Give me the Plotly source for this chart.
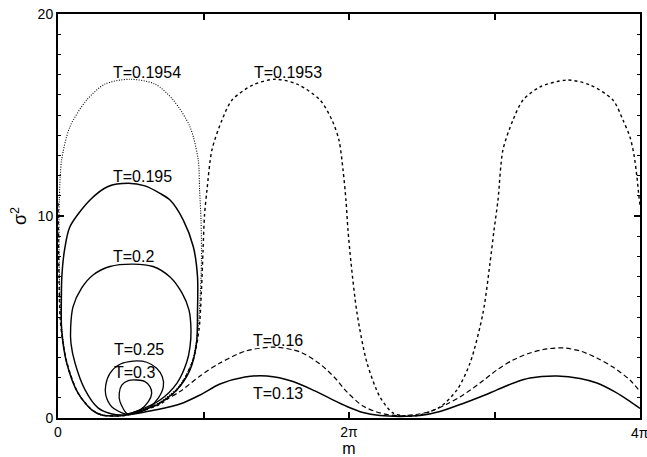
import plotly.graph_objects as go

# x values are m/pi, y values are sigma^2
x_tickvals = [0, 2]
x_ticktext = ["0", "2π"]
x_edge_tick = 4
x_edge_text = "4π"
y_tickvals = [0, 10, 20]
y_ticktext = ["0", "10", "20"]

m_T0_1954 = [0.460, 0.550, 0.701, 0.838, 0.921, 0.962, 0.976, 0.986, 0.983, 0.973, 0.964, 0.907,
             0.792, 0.667, 0.495, 0.323, 0.197, 0.082, 0.025, 0.009, 0.007, 0.010, 0.017, 0.027,
             0.060, 0.137, 0.232, 0.300, 0.460]
s2_T0_1954 = [0.13, 0.35, 0.79, 1.63, 2.77, 4.36, 5.84, 7.82, 9.80, 11.29, 12.77, 14.42,
              15.74, 16.53, 16.77, 16.53, 15.74, 14.42, 12.77, 10.79, 8.81, 6.83, 5.35, 4.36,
              2.72, 1.24, 0.40, 0.15, 0.13]

m_T0_1953 = [0.000, 0.003, 0.007, 0.014, 0.031, 0.062, 0.137, 0.234, 0.302, 0.460, 0.564, 0.715,
             0.838, 0.928, 0.969, 0.986, 0.997, 1.007, 1.024, 1.058, 1.127, 1.196, 1.340, 1.491,
             1.643, 1.801, 1.883, 1.931, 1.959, 1.979, 1.993, 2.014, 2.055, 2.124, 2.213, 2.302,
             2.385, 2.467, 2.625, 2.742, 2.832, 2.921, 2.969, 2.997, 3.024, 3.058, 3.127, 3.196,
             3.313, 3.498, 3.656, 3.814, 3.883, 3.931, 3.959, 3.979, 3.993, 4.000]
s2_T0_1953 = [10.64, 8.81, 6.83, 5.00, 3.86, 2.72, 1.24, 0.40, 0.15, 0.12, 0.32, 0.74,
              1.58, 2.87, 4.36, 6.34, 8.32, 10.05, 11.29, 13.27, 14.75, 15.74, 16.49, 16.77,
              16.53, 15.74, 14.75, 13.76, 12.28, 10.79, 9.31, 7.67, 5.20, 2.72, 1.04, 0.25,
              0.10, 0.12, 0.54, 1.39, 2.72, 5.20, 7.67, 9.31, 10.79, 13.27, 14.75, 15.74,
              16.39, 16.73, 16.49, 15.74, 14.75, 13.91, 13.02, 11.93, 10.94, 10.54]

m_T0_195 = [0.460, 0.541, 0.678, 0.816, 0.907, 0.952, 0.959, 0.959, 0.930, 0.861, 0.770, 0.701,
            0.598, 0.483, 0.344, 0.220, 0.082, 0.045, 0.027, 0.023, 0.025, 0.060, 0.137, 0.232,
            0.300, 0.460]
s2_T0_195 = [0.13, 0.31, 0.64, 1.39, 2.38, 3.71, 5.35, 6.98, 8.48, 9.80, 10.79, 11.12,
             11.49, 11.62, 11.46, 10.79, 9.47, 8.32, 7.08, 5.84, 4.36, 2.72, 1.24, 0.40,
             0.15, 0.13]

m_T0_2 = [0.467, 0.371, 0.275, 0.186, 0.117, 0.089, 0.087, 0.103, 0.163, 0.241, 0.357, 0.515,
          0.653, 0.770, 0.852, 0.900, 0.914, 0.907, 0.885, 0.818, 0.701, 0.564, 0.467]
s2_T0_2 = [0.17, 0.20, 0.50, 1.39, 2.72, 3.71, 4.50, 5.50, 6.44, 7.08, 7.50, 7.62,
           7.50, 6.98, 6.19, 5.35, 4.36, 3.51, 2.77, 1.73, 0.89, 0.40, 0.17]

m_T0_25 = [0.460, 0.369, 0.328, 0.328, 0.357, 0.426, 0.518, 0.610, 0.678, 0.717, 0.724, 0.689,
           0.621, 0.529, 0.460]
s2_T0_25 = [0.20, 0.56, 1.14, 1.63, 2.21, 2.66, 2.82, 2.76, 2.46, 2.04, 1.55, 0.98,
            0.48, 0.23, 0.20]

m_T0_3 = [0.472, 0.426, 0.421, 0.438, 0.483, 0.541, 0.598, 0.632, 0.644, 0.621, 0.564, 0.495, 0.472]
s2_T0_3 = [0.23, 0.81, 1.23, 1.63, 1.85, 1.88, 1.80, 1.55, 1.22, 0.81, 0.40, 0.23, 0.23]

m_T0_16 = [0.481, 0.598, 0.735, 0.838, 0.976, 1.113, 1.292, 1.491, 1.663, 1.801, 1.904, 1.986,
           2.096, 2.213, 2.337, 2.454, 2.557, 2.674, 2.784, 2.900, 3.017, 3.127, 3.244, 3.361,
           3.471, 3.588, 3.704, 3.814, 3.931, 4.000]
s2_T0_16 = [0.17, 0.40, 0.89, 1.31, 2.08, 2.72, 3.32, 3.51, 3.27, 2.67, 1.98, 1.29,
            0.59, 0.25, 0.11, 0.17, 0.32, 0.69, 1.14, 1.73, 2.38, 2.87, 3.22, 3.42,
            3.47, 3.32, 2.97, 2.52, 1.88, 1.31]

m_T0_13 = [0.495, 0.632, 0.735, 0.838, 0.976, 1.113, 1.285, 1.436, 1.615, 1.766, 1.869, 1.986,
           2.096, 2.213, 2.351, 2.488, 2.625, 2.784, 2.900, 3.017, 3.141, 3.244, 3.430, 3.588,
           3.704, 3.828, 3.931, 4.000]
s2_T0_13 = [0.17, 0.35, 0.50, 0.69, 1.14, 1.68, 2.03, 2.08, 1.81, 1.34, 0.97, 0.57,
            0.27, 0.12, 0.08, 0.12, 0.32, 0.72, 1.04, 1.39, 1.76, 1.98, 2.08, 1.96,
            1.73, 1.29, 0.82, 0.47]

label_text = ["T=0.1954", "T=0.1953", "T=0.195", "T=0.2", "T=0.25", "T=0.3", "T=0.16", "T=0.13"]
label_m = [0.615, 1.581, 0.584, 0.522, 0.557, 0.529, 1.512, 1.512]
label_s2 = [17.09, 17.09, 11.95, 7.99, 3.37, 2.24, 3.86, 1.22]

series = [
    ("T=0.1954", m_T0_1954, s2_T0_1954, dict(color="black", width=1.1, dash="1px,1.5px")),
    ("T=0.1953", m_T0_1953, s2_T0_1953, dict(color="black", width=1.4, dash="3px,3px")),
    ("T=0.195", m_T0_195, s2_T0_195, dict(color="black", width=1.5)),
    ("T=0.2", m_T0_2, s2_T0_2, dict(color="black", width=1.4)),
    ("T=0.25", m_T0_25, s2_T0_25, dict(color="black", width=1.3)),
    ("T=0.3", m_T0_3, s2_T0_3, dict(color="black", width=1.3)),
    ("T=0.16", m_T0_16, s2_T0_16, dict(color="black", width=1.2, dash="5px,3px")),
    ("T=0.13", m_T0_13, s2_T0_13, dict(color="black", width=1.5)),
]

fig = go.Figure()
for name, xs, ys, line in series:
    fig.add_trace(go.Scatter(x=xs, y=ys, mode="lines", name=name,
                             line=dict(shape="spline", smoothing=0.8, **line),
                             showlegend=False, hoverinfo="skip"))

FONT = "Liberation Sans, Arial, Helvetica, sans-serif"
for t, xm, ys in zip(label_text, label_m, label_s2):
    fig.add_annotation(x=xm, y=ys, text=t, showarrow=False, xanchor="center", yanchor="middle",
                       font=dict(family=FONT, size=16, color="black"))

# tick label at the very right edge (plotly would hide it as an ordinary tick label)
fig.add_annotation(x=x_edge_tick, xref="x", y=0, yref="paper", yshift=-15,
                   text=x_edge_text, showarrow=False, xanchor="center", yanchor="middle",
                   font=dict(family=FONT, size=14, color="black"))

fig.update_layout(
    width=647, height=457,
    margin=dict(l=58, r=7, t=14, b=39, autoexpand=False),
    paper_bgcolor="white", plot_bgcolor="white",
    font=dict(family=FONT, color="black"),
)
fig.update_xaxes(
    range=[0, 4], tickvals=x_tickvals, ticktext=x_ticktext, automargin=False,
    ticks="inside", ticklen=6, tickwidth=1.5, tickcolor="black",
    showline=True, linewidth=2, linecolor="black", mirror="allticks",
    showgrid=False, zeroline=False,
    minor=dict(dtick=1, ticks="inside", ticklen=6, tickwidth=1.5, tickcolor="black", showgrid=False),
    tickfont=dict(family=FONT, size=14),
    title=dict(text="m", font=dict(family=FONT, size=16), standoff=4),
)
fig.update_yaxes(
    range=[0, 20], tickvals=y_tickvals, ticktext=y_ticktext, automargin=False,
    ticks="inside", ticklen=6, tickwidth=1.5, tickcolor="black",
    showline=True, linewidth=2, linecolor="black", mirror="allticks",
    showgrid=False, zeroline=False,
    minor=dict(dtick=1, ticks="inside", ticklen=3, tickwidth=1, tickcolor="black", showgrid=False),
    tickfont=dict(family=FONT, size=14),
    title=dict(text="σ<sup>2</sup>", font=dict(family=FONT, size=18), standoff=6),
)

fig.write_html("out.html")
